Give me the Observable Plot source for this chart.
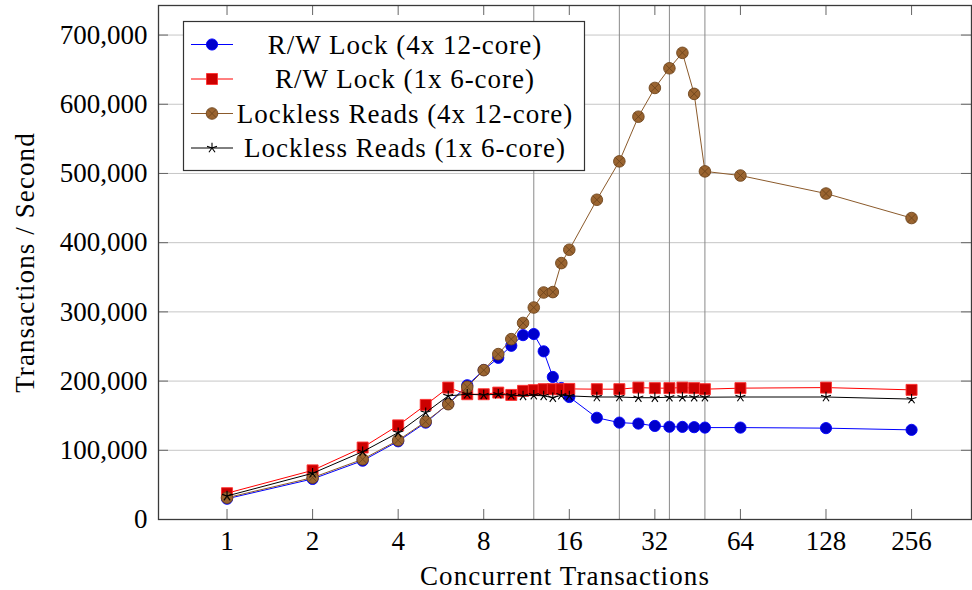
<!DOCTYPE html>
<html>
<head>
<meta charset="utf-8">
<script src="https://cdn.jsdelivr.net/npm/d3@7"></script>
<script src="https://cdn.jsdelivr.net/npm/@observablehq/plot@0.6"></script>
<style>
  body { margin: 0; background: #fff; }
  #chart svg { display: block; }
  g[aria-label="x-axis label"] text,
  g[aria-label="y-axis label"] text { letter-spacing: 1.1px; }
</style>
</head>
<body>
<div id="chart"></div>
<script>
// Concurrent transactions (log2 x axis)
const transactions = [1, 2, 3, 4, 5, 6, 7, 8, 9, 10, 11, 12, 13, 14, 15, 16, 20, 24, 28, 32, 36, 40, 44, 48, 64, 128, 256];

// Throughput, transactions per second
const rwLock4x12 = [30000, 58600, 85000, 113000, 140000, 167000, 194000, 216000, 233600, 251000, 266400, 268000, 243000, 206000, 190000, 177000, 147000, 140000, 138600, 135200, 134000, 133800, 133400, 132800, 132800, 132000, 129500];
const rwLock1x6 = [38000, 71000, 104000, 136000, 165600, 190600, 181000, 181000, 183400, 180000, 185900, 186900, 188300, 188300, 188300, 188700, 188300, 188300, 190600, 189800, 189800, 190600, 189800, 188300, 189800, 190600, 187300];
const lockless4x12 = [31500, 60500, 87000, 114500, 141500, 166600, 191600, 215800, 239000, 260600, 284000, 306300, 328000, 328600, 370500, 389800, 462000, 517500, 582000, 623600, 652000, 674300, 615000, 503000, 497000, 471000, 435600];
const lockless1x6 = [34000, 66800, 98000, 125500, 154500, 178600, 181000, 180000, 181000, 179600, 178600, 179600, 178600, 176000, 179600, 178600, 177000, 177000, 176000, 176000, 176700, 176700, 176700, 176700, 177000, 177000, 174000];

const seriesNames = ["R/W Lock (4x 12-core)", "R/W Lock (1x 6-core)", "Lockless Reads (4x 12-core)", "Lockless Reads (1x 6-core)"];

const xTicks = [1, 2, 4, 8, 16, 32, 64, 128, 256];
const yTicks = [0, 100000, 200000, 300000, 400000, 500000, 600000, 700000];
const coreMarkers = [12, 24, 36, 48];

// ---- layout ----
const W = 972, H = 590;
const M = {left: 158, right: 1, top: 5, bottom: 71};
const innerW = W - M.left - M.right;
const innerH = H - M.top - M.bottom;
const tickLen = 10;
const FONT = '"Liberation Serif", "Times New Roman", serif';

// ---- custom marker shapes ----
const star5 = {
  draw(ctx, size) {
    const r = Math.sqrt(size / Math.PI);
    for (let i = 0; i < 5; i++) {
      const a = -Math.PI / 2 + i * 2 * Math.PI / 5;
      ctx.moveTo(0, 0);
      ctx.lineTo(r * Math.cos(a), r * Math.sin(a));
    }
  }
};
const cross = {
  draw(ctx, size) {
    const r = Math.sqrt(size / Math.PI) * 0.7071;
    ctx.moveTo(-r, -r); ctx.lineTo(r, r);
    ctx.moveTo(-r, r); ctx.lineTo(r, -r);
  }
};

const styles = [
  {line: "#0000ff", fill: "#0000cc", stroke: "#0000ff", symbol: "circle", r: 5.6},
  {line: "#ff0000", fill: "#cc0000", stroke: "#ff3030", symbol: "square", r: 6.2},
  {line: "#8b5a2b", fill: "#9a6430", stroke: "#6e451d", symbol: "circle", r: 5.8, inner: cross},
  {line: "#000000", fill: "none", stroke: "#000000", symbol: star5, r: 5.2}
];

const seriesValues = [rwLock4x12, rwLock1x6, lockless4x12, lockless1x6];
const rows = seriesValues.map((vals) => transactions.map((t, i) => ({x: t, y: vals[i]})));

const dataMarks = [];
rows.forEach((data, k) => {
  const s = styles[k];
  dataMarks.push(Plot.line(data, {x: "x", y: "y", stroke: s.line, strokeWidth: 1}));
  dataMarks.push(Plot.dot(data, {
    x: "x", y: "y", symbol: s.symbol, r: s.r,
    fill: s.fill, stroke: s.stroke, strokeWidth: s.fill === "none" ? 1.1 : 0.9
  }));
  if (s.inner) {
    dataMarks.push(Plot.dot(data, {x: "x", y: "y", symbol: s.inner, r: s.r, fill: "none", stroke: s.stroke, strokeWidth: 0.9}));
  }
});

const chart = Plot.plot({
  width: W,
  height: H,
  marginLeft: M.left,
  marginRight: M.right,
  marginTop: M.top,
  marginBottom: M.bottom,
  style: {fontFamily: FONT, fontSize: "27px", color: "#000", background: "#fff", overflow: "visible"},
  x: {type: "log", base: 2, domain: [0.574, 416]},
  y: {domain: [0, 742700]},
  marks: [
    Plot.gridY(yTicks, {stroke: "#c6c6c6", strokeOpacity: 1, strokeWidth: 1}),
    Plot.ruleX(coreMarkers, {stroke: "#8a8a8a", strokeWidth: 1}),
    Plot.tickX(xTicks, {x: (d) => d, insetTop: innerH - tickLen, stroke: "#666"}),
    Plot.tickX(xTicks, {x: (d) => d, insetBottom: innerH - tickLen, stroke: "#666"}),
    Plot.tickY(yTicks, {y: (d) => d, insetRight: innerW - tickLen, stroke: "#666"}),
    Plot.tickY(yTicks, {y: (d) => d, insetLeft: innerW - tickLen, stroke: "#666"}),
    Plot.axisX(xTicks, {
      tickSize: 0, tickPadding: 11, tickFormat: (d) => String(d), fontSize: 27,
      label: "Concurrent Transactions", labelAnchor: "center", labelOffset: 65, labelArrow: "none"
    }),
    Plot.axisY(yTicks, {
      tickSize: 0, tickPadding: 11, tickFormat: d3.format(","), fontSize: 27,
      label: "Transactions / Second", labelAnchor: "center", labelOffset: 144, labelArrow: "none"
    }),
    ...dataMarks,
    Plot.frame({stroke: "#3a3a3a", strokeWidth: 1.3})
  ]
});

document.getElementById("chart").appendChild(chart);

// ---- legend box (upper left, inside the plot area) ----
const svg = d3.select(chart);
const lg = svg.append("g")
  .attr("font-family", FONT)
  .attr("font-size", 27)
  .attr("fill", "#000");
lg.append("rect")
  .attr("x", 183.5).attr("y", 21.5)
  .attr("width", 401).attr("height", 149)
  .attr("fill", "#fff").attr("stroke", "#333").attr("stroke-width", 1.2);

const rowY = [44.5, 79, 113.5, 148];
seriesNames.forEach((name, k) => {
  const s = styles[k];
  const y = rowY[k];
  lg.append("line")
    .attr("x1", 191).attr("x2", 233).attr("y1", y).attr("y2", y)
    .attr("stroke", s.line).attr("stroke-width", 1);
  const area = Math.PI * s.r * s.r;
  const shape = typeof s.symbol === "string"
    ? (s.symbol === "square" ? d3.symbolSquare : d3.symbolCircle)
    : s.symbol;
  lg.append("path")
    .attr("transform", `translate(212,${y})`)
    .attr("d", d3.symbol(shape, area)())
    .attr("fill", s.fill).attr("stroke", s.stroke)
    .attr("stroke-width", s.fill === "none" ? 1.1 : 0.9);
  if (s.inner) {
    lg.append("path")
      .attr("transform", `translate(212,${y})`)
      .attr("d", d3.symbol(s.inner, area)())
      .attr("fill", "none").attr("stroke", s.stroke).attr("stroke-width", 0.9);
  }
  lg.append("text")
    .attr("x", 405).attr("y", y)
    .attr("dy", "0.34em")
    .attr("text-anchor", "middle")
    .attr("letter-spacing", "1px")
    .text(name);
});
</script>
</body>
</html>
